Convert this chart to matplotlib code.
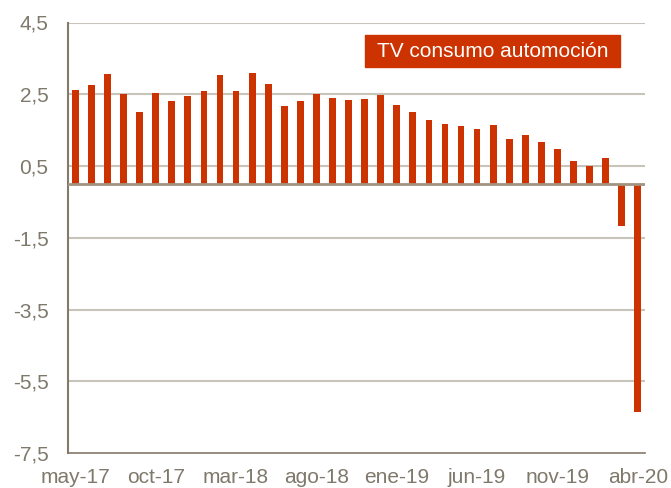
import matplotlib
matplotlib.use("Agg")
import matplotlib.pyplot as plt
from matplotlib.patches import Rectangle

months = ["may-17", "jun-17", "jul-17", "ago-17", "sep-17", "oct-17", "nov-17", "dic-17",
          "ene-18", "feb-18", "mar-18", "abr-18", "may-18", "jun-18", "jul-18", "ago-18",
          "sep-18", "oct-18", "nov-18", "dic-18", "ene-19", "feb-19", "mar-19", "abr-19",
          "may-19", "jun-19", "jul-19", "ago-19", "sep-19", "oct-19", "nov-19", "dic-19",
          "ene-20", "feb-20", "mar-20", "abr-20"]
values = [2.62, 2.77, 3.06, 2.52, 2.00, 2.54, 2.31, 2.45, 2.60, 3.03, 2.60, 3.09,
          2.78, 2.16, 2.32, 2.52, 2.40, 2.35, 2.37, 2.49, 2.20, 2.00, 1.77, 1.67,
          1.62, 1.54, 1.65, 1.26, 1.36, 1.16, 0.96, 0.63, 0.50, 0.71, -1.18, -6.37]
series_name = "TV consumo automoción"
yticks = [4.5, 2.5, 0.5, -1.5, -3.5, -5.5, -7.5]
xtick_idx = list(range(0, 36, 5))

plt.rcParams['font.family'] = ['Liberation Sans', 'DejaVu Sans']

bar_color = "#CC3300"
text_color = "#7F796B"
spine_color = "#86796A"
grid_color = "#C9C4B9"
zero_color = "#A39482"

fig = plt.figure(figsize=(6.71, 4.88), dpi=100)
ax = fig.add_axes([68/671, 1-453/488, (645-68)/671, (453-22.5)/488])

x = list(range(len(values)))
ax.bar(x, values, width=0.42, color=bar_color, zorder=3)

ax.set_ylim(-7.5, 4.5)
ax.set_xlim(-0.46, 35.45)
ax.set_yticks(yticks)
ax.set_yticklabels([f"{v:.1f}".replace(".", ",") for v in yticks])
ax.set_xticks(xtick_idx)
ax.set_xticklabels([months[i] for i in xtick_idx])

ax.tick_params(axis='both', length=0, labelsize=15, colors=text_color)
ax.tick_params(axis='y', pad=14)
ax.tick_params(axis='x', pad=11)

for v in yticks:
    if v != -7.5:
        ax.axhline(v, color=grid_color, lw=1.5, zorder=1)
ax.axhline(0, color=zero_color, lw=2, zorder=4)

for s in ['top', 'right']:
    ax.spines[s].set_visible(False)
ax.spines['left'].set_color(spine_color)
ax.spines['left'].set_linewidth(1.5)
ax.spines['bottom'].set_color(spine_color)
ax.spines['bottom'].set_linewidth(1.2)

# legend-like label box
fig.patches.append(Rectangle((365/671, 1-67/488), 255/671, 32/488,
                             transform=fig.transFigure, color=bar_color, zorder=5))
fig.text(492.5/671, 1-51.5/488, series_name, color="white", fontsize=15,
         ha="center", va="center", zorder=6)

fig.savefig("out.png", dpi=100)
